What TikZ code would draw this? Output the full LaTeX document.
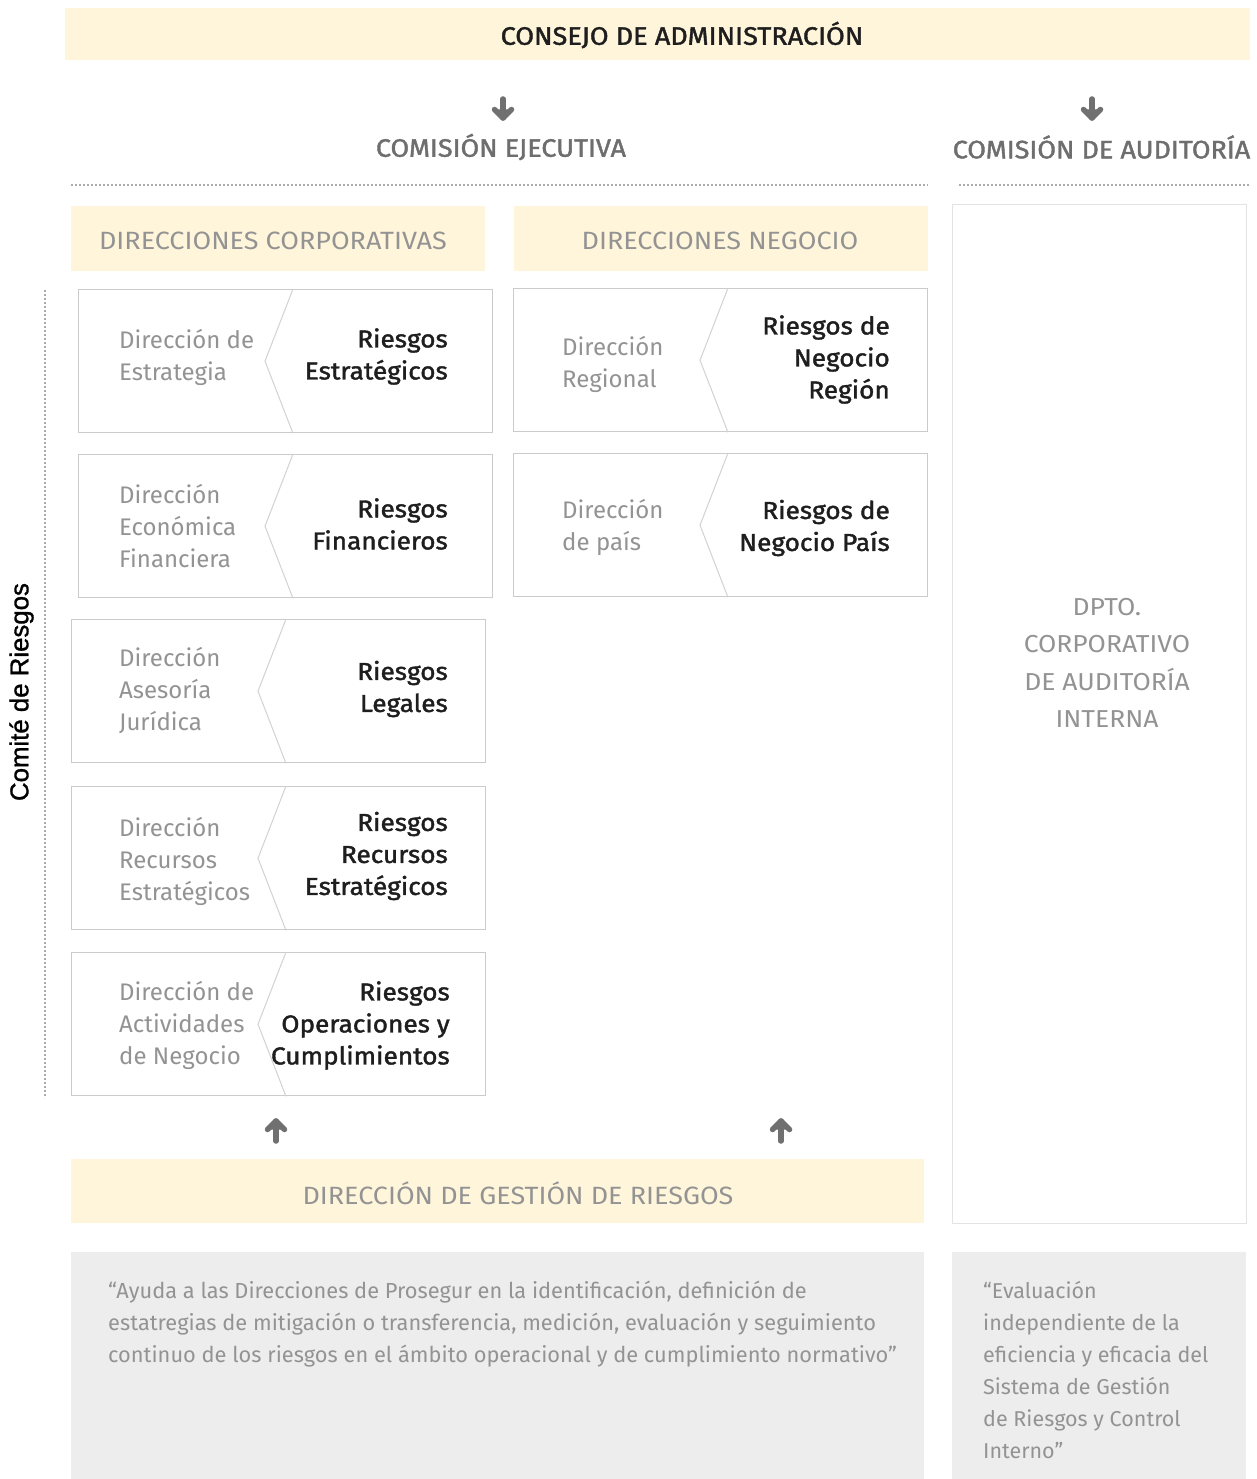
\documentclass[tikz,border=0pt]{standalone}
\usepackage{fontspec}
\setmainfont{Fira Sans}
\newfontfamily\comfont{Liberation Sans}[FakeBold=1.2]
\newfontfamily\medfont{Fira Sans}[FakeBold=1.6, FakeStretch=1.07]
\newfontfamily\lightwfont{Fira Sans}[FakeStretch=1.08]
\usetikzlibrary{calc}
\definecolor{cream}{HTML}{FFF5DA}
\definecolor{boxgray}{HTML}{EDEDED}
\definecolor{darktext}{HTML}{1E1E1E}
\definecolor{midtext}{HTML}{6E6E6E}
\definecolor{lighttext}{HTML}{939393}
\definecolor{bordergray}{HTML}{CBCBCB}
\definecolor{chevgray}{HTML}{D2D2D2}
\definecolor{audborder}{HTML}{E3E3E3}
\definecolor{arrowgray}{HTML}{707070}
\definecolor{dotgray}{HTML}{ABABAB}
\tikzset{
  band/.style={fill=cream, draw=none, inner sep=0pt, anchor=north west},
  graybox/.style={fill=boxgray, draw=none, inner sep=0pt, anchor=north west},
  riskframe/.style={draw=bordergray, line width=1.4pt, fill=white, minimum width=414pt, minimum height=143pt, anchor=north west, inner sep=0pt},
  chev/.style={draw=chevgray, line width=1pt},
  lefttxt/.style={anchor=west, align=left, text=lighttext, font=\fontsize{24}{32}\selectfont, inner sep=0pt},
  righttxt/.style={anchor=east, align=right, text=darktext, font=\medfont\fontsize{24.5}{32}\selectfont, inner sep=0pt},
  heading/.style={text=midtext, font=\medfont\fontsize{25.2}{28}\selectfont, inner sep=0pt},
  lighthead/.style={text=lighttext, font=\lightwfont\fontsize{25}{28}\selectfont, inner sep=0pt},
  quotetxt/.style={anchor=north west, align=left, text=lighttext, font=\fontsize{21.8}{32}\selectfont, inner sep=0pt},
  arrowshaft/.style={draw=arrowgray, line width=5.5pt, line cap=round},
  arrowhead/.style={draw=arrowgray, fill=arrowgray, line width=5.5pt, line cap=round, line join=round},
  dotline/.style={draw=dotgray, line width=1.6pt, dash pattern=on 1.6pt off 2.4pt}
}
% name, x, y, left text x, right text x, left dy, right dy, left text, right text
\newcommand\riskbox[9]{%
  \node[riskframe] (#1) at (#2,#3) {};
  \draw[chev] ($(#1.north west)+(215,0)$) -- ($(#1.west)+(187,0)$) -- ($(#1.south west)+(215,0)$);
  \node[lefttxt] (#1l) at (#4,#3+#6) {#8};
  \node[righttxt] (#1r) at (#5,#3+#7) {#9};
}
\newcommand\fatdownarrow[2]{% start, tip
  \draw[arrowshaft] (#1) -- (#2);
  \draw[arrowhead] ($(#2)+(-8.5,-8.5)$) -- (#2) -- ($(#2)+(8.5,-8.5)$);
}
\newcommand\fatuparrow[2]{% start, tip
  \draw[arrowshaft] (#1) -- (#2);
  \draw[arrowhead] ($(#2)+(-8.5,8.5)$) -- (#2) -- ($(#2)+(8.5,8.5)$);
}
\begin{document}
\begin{tikzpicture}[x=1pt,y=-1pt]
\useasboundingbox (0,0) rectangle (1256,1479);
% top banner
\node[band, minimum width=1185pt, minimum height=52pt] (consejo) at (65,8) {};
\node[text=darktext, font=\medfont\fontsize{25.3}{28}\selectfont, inner sep=0pt] (consejot) at (682,35) {CONSEJO DE ADMINISTRACIÓN};
% arrows down
\coordinate (a1s) at (503,99); \coordinate (a1e) at (503,118);
\coordinate (a2s) at (1092,99); \coordinate (a2e) at (1092,118);
\fatdownarrow{a1s}{a1e}
\fatdownarrow{a2s}{a2e}
% headings
\node[heading] (ce) at (501,147) {COMISIÓN EJECUTIVA};
\node[heading] (ca) at (1101.5,147) {COMISIÓN DE AUDITORÍA};
% dotted lines
\coordinate (d1s) at (71,185); \coordinate (d1e) at (928,185);
\coordinate (d2s) at (959,185); \coordinate (d2e) at (1250,185);
\draw[dotline] (d1s) -- (d1e);
\draw[dotline] (d2s) -- (d2e);
% section bands
\node[band, minimum width=414pt, minimum height=65pt] (dc) at (71,206) {};
\node[lighthead] (dct) at (273,241) {DIRECCIONES CORPORATIVAS};
\node[band, minimum width=414pt, minimum height=65pt] (dn) at (514,206) {};
\node[lighthead] (dnt) at (720,241) {DIRECCIONES NEGOCIO};
% audit box
\node[draw=audborder, line width=1.4pt, fill=white, minimum width=294pt, minimum height=1019pt, anchor=north west, inner sep=0pt] (aud) at (952,204) {};
\node[lighthead, align=center, font=\lightwfont\fontsize{24.5}{37.5}\selectfont] (audt) at (1107,663) {DPTO.\\CORPORATIVO\\DE AUDITORÍA\\INTERNA};
% risk boxes
\riskbox{rs}{78}{289}{119}{448}{68.5}{67.5}{Dirección de\\Estrategia}{Riesgos\\Estratégicos}
\riskbox{rf}{78}{454}{119}{448}{72.5}{70}{Dirección\\Económica\\Financiera}{Riesgos\\Financieros}
\riskbox{rl}{71}{619}{119}{448}{71.5}{70}{Dirección\\Asesoría\\Jurídica}{Riesgos\\Legales}
\riskbox{rr}{71}{786}{119}{448}{75}{70}{Dirección\\Recursos\\Estratégicos}{Riesgos\\Recursos\\Estratégicos}
\riskbox{ro}{71}{952}{119}{450}{73}{73.5}{Dirección de\\Actividades\\de Negocio}{Riesgos\\Operaciones y\\Cumplimientos}
\riskbox{rn}{513}{288}{562}{890}{76}{71.5}{Dirección\\Regional}{Riesgos de\\Negocio\\Región}
\riskbox{rp}{513}{453}{562}{890}{74.5}{75}{Dirección\\de país}{Riesgos de\\Negocio País}
% comite
\coordinate (cds) at (45,290); \coordinate (cde) at (45,1098);
\draw[dotline] (cds) -- (cde);
\node[rotate=90, text=black, font=\comfont\fontsize{25.8}{28}\selectfont, inner sep=0pt] (comite) at (21.5,692) {Comité de Riesgos};
% arrows up
\coordinate (u1s) at (276,1141); \coordinate (u1e) at (276,1121);
\coordinate (u2s) at (781,1141); \coordinate (u2e) at (781,1121);
\fatuparrow{u1s}{u1e}
\fatuparrow{u2s}{u2e}
% gestion
\node[band, minimum width=853pt, minimum height=64pt] (dgr) at (71,1159) {};
\node[lighthead] (dgrt) at (518,1193) {DIRECCIÓN DE GESTIÓN DE RIESGOS};
% quotes
\node[graybox, minimum width=853pt, minimum height=227pt] (q1) at (71,1252) {};
\node[graybox, minimum width=294pt, minimum height=227pt] (q2) at (952,1252) {};
\node[quotetxt] (q1t) at (108,1281) {“Ayuda a las Direcciones de Prosegur en la identificación, definición de\\estatregias de mitigación o transferencia, medición, evaluación y seguimiento\\continuo de los riesgos en el ámbito operacional y de cumplimiento normativo”};
\node[quotetxt, font=\fontsize{21.5}{32}\selectfont] (q2t) at (983,1281) {“Evaluación\\independiente de la\\eficiencia y eficacia del\\Sistema de Gestión\\de Riesgos y Control\\Interno”};
\end{tikzpicture}
\end{document}
